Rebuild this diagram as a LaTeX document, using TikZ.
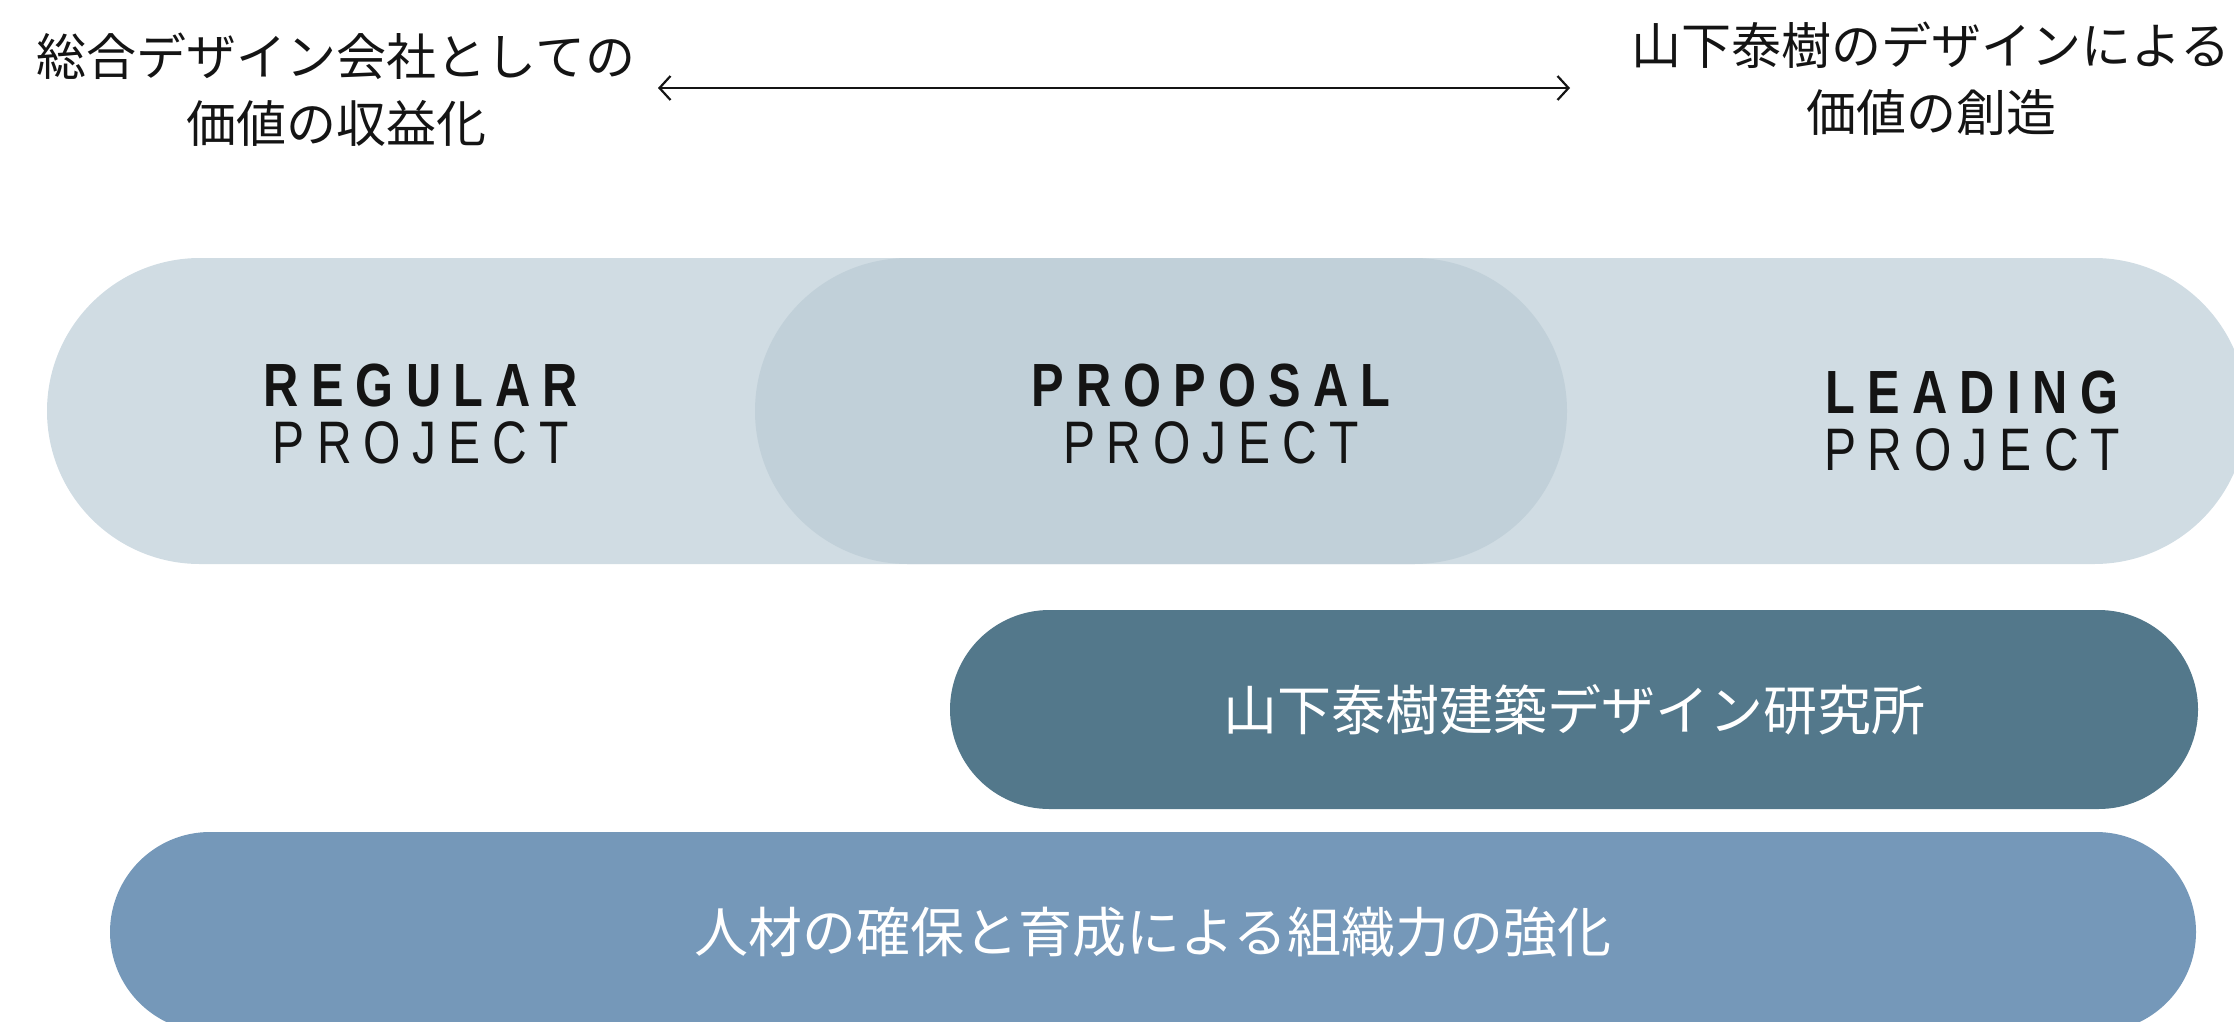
\documentclass[tikz,border=0pt]{standalone}
\usepackage{fontspec}
\setmainfont{Liberation Sans}
\newfontfamily\cjk{Noto Sans CJK JP}
\newfontfamily\condfont[FakeStretch=0.8,LetterSpace=20]{Liberation Sans}
\usetikzlibrary{arrows.meta}
\definecolor{bandlight}{RGB}{208,220,227}
\definecolor{bandmid}{RGB}{193,208,217}
\definecolor{bandteal}{RGB}{83,120,139}
\definecolor{bandblue}{RGB}{117,152,185}
\definecolor{ink}{RGB}{20,20,20}
\tikzset{
  stadium/.style={rectangle, inner sep=0pt, draw=none},
  toptext/.style={align=center, text=ink, font=\cjk\fontsize{50pt}{67pt}\selectfont},
  bandtext/.style={text=white, font=\cjk\fontsize{54pt}{60pt}\selectfont},
  projlabel/.style={align=center, text=ink, inner sep=0pt, font=\condfont\fontsize{60pt}{57pt}\selectfont},
}
\newcommand{\projname}[1]{{\bfseries\fontsize{61pt}{57pt}\selectfont #1}\\PROJECT}
\begin{document}
\begin{tikzpicture}[x=1pt,y=-1pt]
\useasboundingbox (0,0) rectangle (2234,1021);
\clip (0,0) rectangle (2234,1021);
% bands
\node[stadium, fill=bandlight, rounded corners=153pt, minimum width=2200pt, minimum height=306pt] (light) at (1147,411) {};
\node[stadium, fill=bandmid, rounded corners=153pt, minimum width=812pt, minimum height=306pt] (proposal) at (1161,411) {};
\node[stadium, fill=bandteal, rounded corners=99.5pt, minimum width=1248pt, minimum height=199pt, bandtext] (lab) at (1574,709.5) {山下泰樹建築デザイン研究所};
\node[stadium, fill=bandblue, rounded corners=100pt, minimum width=2086pt, minimum height=200pt, bandtext] (org) at (1153,932) {人材の確保と育成による組織力の強化};
% project labels
\node[projlabel] (regular) at (421,414) {\projname{REGULAR}};
\node[projlabel] (proposaltxt) at (1211,414) {\projname{PROPOSAL}};
\node[projlabel] (leading) at (1972,421) {\projname{LEADING}};
% top texts
\node[toptext] (left) at (336,90) {総合デザイン会社としての\\価値の収益化};
\node[toptext] (right) at (1931,79) {山下泰樹のデザインによる\\価値の創造};
\coordinate (arrL) at (658,88);
\coordinate (arrR) at (1570,88);
\draw[{Straight Barb[length=11pt,width=24pt]}-{Straight Barb[length=11pt,width=24pt]}, line width=2.2pt, ink] (arrL) -- (arrR);
\end{tikzpicture}
\end{document}
